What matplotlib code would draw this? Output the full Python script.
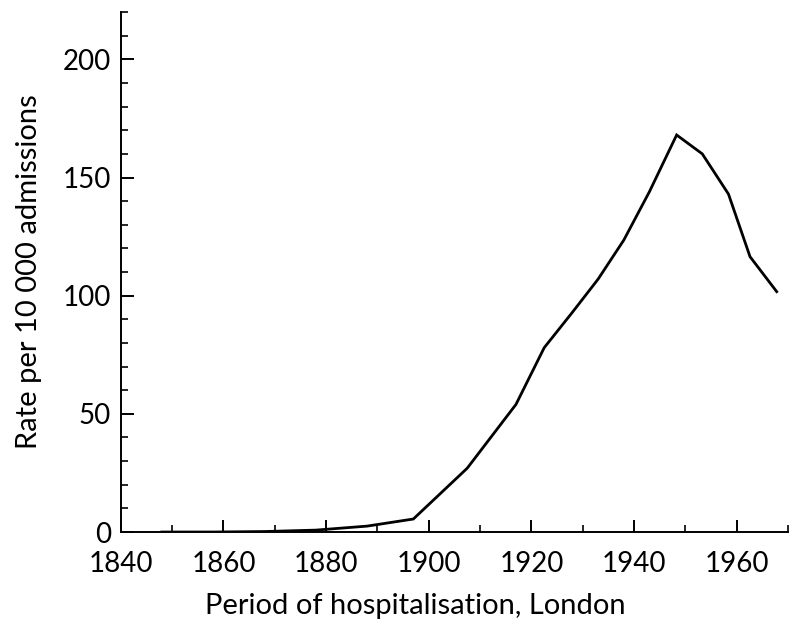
import matplotlib
matplotlib.use("Agg")
import matplotlib.pyplot as plt
from matplotlib.ticker import MultipleLocator

# values
years = [1848, 1858, 1868, 1878, 1888, 1897, 1907.5, 1917, 1922.5, 1928,
         1933, 1938, 1943, 1948.3, 1953.3, 1958.4, 1962.6, 1967.8]
rate = [0, 0, 0.2, 0.8, 2.5, 5.5, 27, 54, 78, 93,
        107, 123.5, 144, 168, 160, 143, 116.5, 101.7]

xticks = [1840, 1860, 1880, 1900, 1920, 1940, 1960]
yticks = [0, 50, 100, 150, 200]

plt.rcParams["font.family"] = ["Lato", "DejaVu Sans"]

fig = plt.figure(figsize=(8, 6.36), dpi=100)
ax = fig.add_axes([0.151, 0.1635, 0.834, 0.8175])

ax.plot(years, rate, color="black", lw=2.0, solid_joinstyle="miter")

ax.set_xlim(1840, 1970)
ax.set_ylim(0, 220)
ax.set_xticks(xticks)
ax.set_yticks(yticks)
ax.xaxis.set_minor_locator(MultipleLocator(10))
ax.yaxis.set_minor_locator(MultipleLocator(10))

for s in ["top", "right"]:
    ax.spines[s].set_visible(False)
for s in ["left", "bottom"]:
    ax.spines[s].set_linewidth(1.4)

ax.tick_params(which="major", direction="in", length=9, width=1.4,
               labelsize=20)
ax.tick_params(axis="x", which="major", pad=14)
ax.tick_params(axis="y", which="major", pad=7)
ax.tick_params(which="minor", direction="in", length=5, width=1.2)

ax.set_xlabel("Period of hospitalisation, London", fontsize=21)
ax.set_ylabel("Rate per 10 000 admissions", fontsize=21)
ax.xaxis.set_label_coords(0.442, -0.118)
ax.yaxis.set_label_coords(-0.118, 0.5)

fig.savefig("out.png", dpi=100)
